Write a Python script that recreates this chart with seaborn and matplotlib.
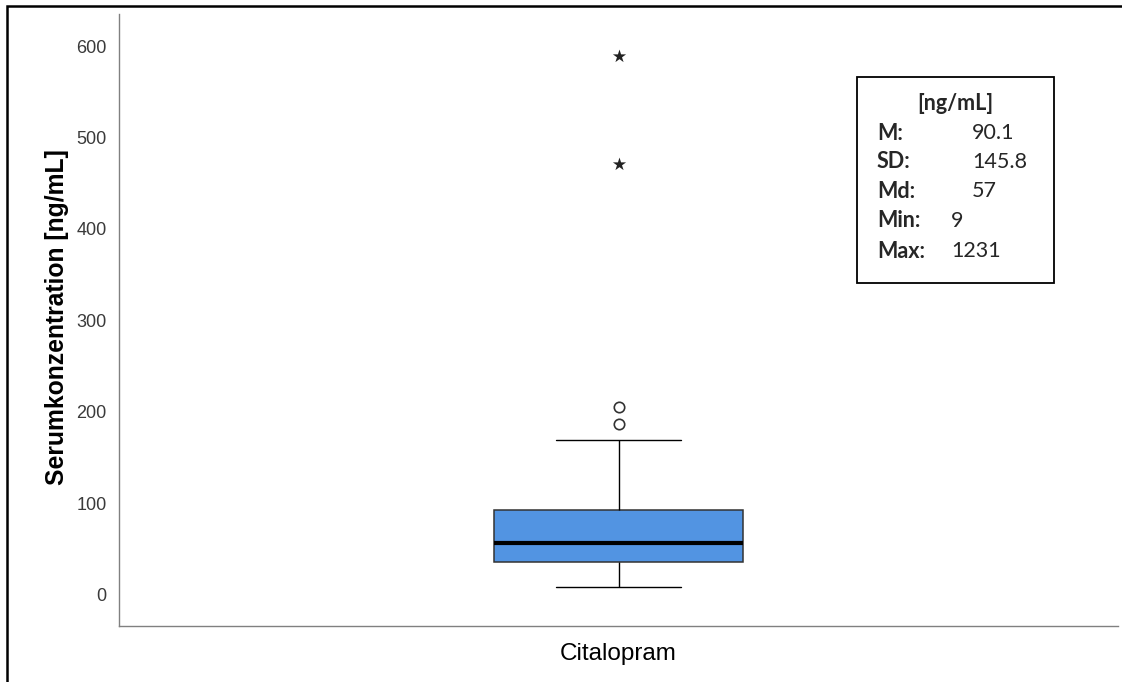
import pandas as pd
import matplotlib
matplotlib.use("Agg")
import matplotlib.pyplot as plt
from matplotlib.patches import Rectangle
import seaborn as sns

# Werte
drug = "Citalopram"
box_summary = [9, 36, 57, 93, 169]     # min-Whisker, Q1, Median, Q3, max-Whisker
outliers = [187, 205]                  # Kreise
extremes = [471, 589]                  # Sterne
stat_labels = ["M:", "SD:", "Md:", "Min:", "Max:"]
stat_values = ["90.1", "145.8", "57", "9", "1231"]

df_box = pd.DataFrame({"drug": drug, "conc": box_summary})
df_out = pd.DataFrame({"drug": drug, "conc": outliers})
df_ext = pd.DataFrame({"drug": drug, "conc": extremes})

sns.set_style("white")
plt.rcParams["font.family"] = ["Liberation Sans", "DejaVu Sans"]

fig = plt.figure(figsize=(11.22, 6.82), dpi=100)
ax = fig.add_axes([119 / 1122, 1 - 626 / 682, 999 / 1122, 612 / 682])

sns.boxplot(data=df_box, x="drug", y="conc", ax=ax, width=0.25,
            color="#5294E2", saturation=1, linecolor="#333333", linewidth=1.1,
            showfliers=False,
            medianprops=dict(color="black", linewidth=3),
            whiskerprops=dict(color="black", linewidth=1.0),
            capprops=dict(color="black", linewidth=1.0))
sns.stripplot(data=df_out, x="drug", y="conc", ax=ax, jitter=False,
              color="white", edgecolor="#333333", linewidth=1.2, size=7.5)
sns.stripplot(data=df_ext, x="drug", y="conc", ax=ax, jitter=False,
              marker="*", color="#222222", size=10)

ax.set_xlim(-0.5, 0.5)
ax.set_ylim(-34, 635)
ax.set_yticks(range(0, 601, 100))
ax.set_xlabel("")
ax.set_ylabel("Serumkonzentration [ng/mL]", fontsize=17.8, fontweight="bold", color="black")
ax.yaxis.set_label_coords(-0.05, 0.505)

for side in ["top", "right"]:
    ax.spines[side].set_visible(False)
for side in ["left", "bottom"]:
    ax.spines[side].set_color("#808080")
    ax.spines[side].set_linewidth(1.0)

ax.tick_params(axis="y", direction="inout", length=10, width=0.8, color="#909090",
               labelsize=13, labelcolor="#3a3a3a", pad=4)
ax.tick_params(axis="x", length=0, labelsize=17.5, labelcolor="black", pad=12)

# Statistik-Kasten
bx0, by0, bx1, by1 = 857, 77, 1054, 283
fig.add_artist(Rectangle((bx0 / 1122, 1 - by1 / 682), (bx1 - bx0) / 1122, (by1 - by0) / 682,
                         transform=fig.transFigure, fill=False, edgecolor="black", linewidth=1.3))
fig.text(955 / 1122, 1 - 103 / 682, "[ng/mL]", family="Lato", fontweight="bold",
         fontsize=15.5, ha="center", va="center")
row_y = [133, 162, 191, 221, 251]
val_x = [972, 972, 972, 951, 951]
for lab, val, yy, vx in zip(stat_labels, stat_values, row_y, val_x):
    fig.text(877 / 1122, 1 - yy / 682, lab, family="Lato", fontweight="bold",
             fontsize=15.5, ha="left", va="center")
    fig.text(vx / 1122, 1 - yy / 682, val, family="Lato", fontsize=15.5,
             ha="left", va="center")

# äußerer Rahmen (nur oben und links sichtbar)
fig.add_artist(Rectangle((7 / 1122, -0.2), 1.5, 1.2 - 6 / 682, transform=fig.transFigure,
                         fill=False, edgecolor="black", linewidth=1.8))

fig.savefig("out.png", dpi=100)
